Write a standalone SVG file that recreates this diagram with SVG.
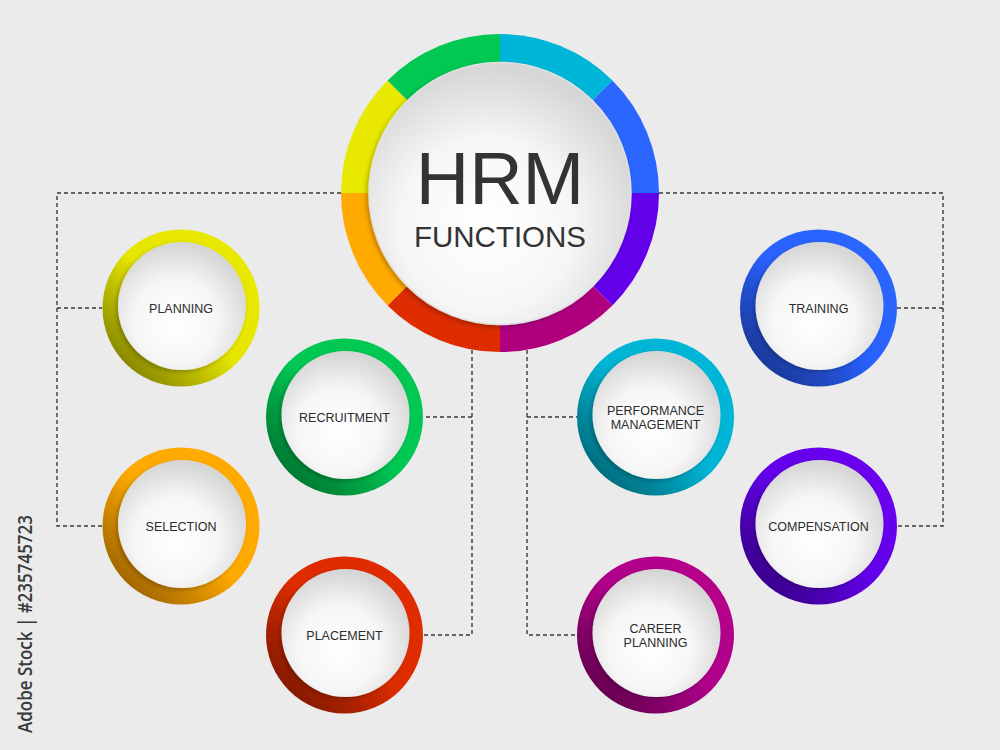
<svg xmlns="http://www.w3.org/2000/svg" width="1000" height="750" viewBox="0 0 1000 750">
<defs>
<style>
.lbl{font-family:"Liberation Sans",Arial,sans-serif;font-size:12.5px;fill:#2b2b2b;text-anchor:middle}
.dash{fill:none;stroke:#3a3a3a;stroke-width:1.4;stroke-dasharray:4 3}
.white{fill:url(#wg);filter:url(#sh)}
</style>
<radialGradient id="wg" cx="0.45" cy="0.62" r="0.6">
<stop offset="0" stop-color="#ffffff"/>
<stop offset="0.55" stop-color="#f6f6f6"/>
<stop offset="1" stop-color="#d6d6d6"/>
</radialGradient>
<filter id="sh" x="-20%" y="-20%" width="140%" height="140%">
<feDropShadow dx="-2" dy="2" stdDeviation="2" flood-color="#000" flood-opacity="0.25"/>
</filter>
<linearGradient id="gY" x1="0.85" y1="0.15" x2="0.15" y2="0.85"><stop offset="0" stop-color="#e8e800"/><stop offset="0.5" stop-color="#e6e600"/><stop offset="1" stop-color="#8a8a00"/></linearGradient>
<linearGradient id="gG" x1="0.85" y1="0.15" x2="0.15" y2="0.85"><stop offset="0" stop-color="#00c853"/><stop offset="0.5" stop-color="#00c853"/><stop offset="1" stop-color="#007a33"/></linearGradient>
<linearGradient id="gO" x1="0.85" y1="0.15" x2="0.15" y2="0.85"><stop offset="0" stop-color="#ffaa00"/><stop offset="0.5" stop-color="#ffaa00"/><stop offset="1" stop-color="#a36800"/></linearGradient>
<linearGradient id="gR" x1="0.85" y1="0.15" x2="0.15" y2="0.85"><stop offset="0" stop-color="#e02c00"/><stop offset="0.5" stop-color="#dd2c00"/><stop offset="1" stop-color="#861a00"/></linearGradient>
<linearGradient id="gB" x1="0.85" y1="0.15" x2="0.15" y2="0.85"><stop offset="0" stop-color="#2b65ff"/><stop offset="0.5" stop-color="#2962ff"/><stop offset="1" stop-color="#1a3a9c"/></linearGradient>
<linearGradient id="gC" x1="0.85" y1="0.15" x2="0.15" y2="0.85"><stop offset="0" stop-color="#00b6d6"/><stop offset="0.5" stop-color="#00b4d4"/><stop offset="1" stop-color="#006f80"/></linearGradient>
<linearGradient id="gP" x1="0.85" y1="0.15" x2="0.15" y2="0.85"><stop offset="0" stop-color="#6a00ee"/><stop offset="0.5" stop-color="#6200ea"/><stop offset="1" stop-color="#3a008e"/></linearGradient>
<linearGradient id="gM" x1="0.85" y1="0.15" x2="0.15" y2="0.85"><stop offset="0" stop-color="#b5008a"/><stop offset="0.5" stop-color="#b0008a"/><stop offset="1" stop-color="#680052"/></linearGradient>
</defs>
<rect width="1000" height="750" fill="#ebebeb"/>

<g id="connectors">
<path class="dash" d="M341,193 H57 V526 H102 M57,308 H102"/>
<path class="dash" d="M659,193 H943 V526 H897 M943,308 H897"/>
<path class="dash" d="M472,350 V635 H423 M472,417 H423"/>
<path class="dash" d="M527,350 V635 H577 M527,417 H577"/>
</g>

<g id="hrm">
<path d="M500,193 L500,34 A159,159 0 0 1 612.43,80.57 Z" fill="#00b6d8"/>
<path d="M500,193 L612.43,80.57 A159,159 0 0 1 659,193 Z" fill="#2b65ff"/>
<path d="M500,193 L659,193 A159,159 0 0 1 612.43,305.43 Z" fill="#6200ea"/>
<path d="M500,193 L612.43,305.43 A159,159 0 0 1 500,352 Z" fill="#b0007e"/>
<path d="M500,193 L500,352 A159,159 0 0 1 387.57,305.43 Z" fill="#dd2c00"/>
<path d="M500,193 L387.57,305.43 A159,159 0 0 1 341,193 Z" fill="#ffaa00"/>
<path d="M500,193 L341,193 A159,159 0 0 1 387.57,80.57 Z" fill="#e8e800"/>
<path d="M500,193 L387.57,80.57 A159,159 0 0 1 500,34 Z" fill="#00c853"/>
<circle cx="500" cy="193.5" r="131" class="white" stroke="#e2e2e2" stroke-width="1.5"/>
<text x="500" y="204" text-anchor="middle" font-family="Liberation Sans,Arial,sans-serif" font-size="74" fill="#333">HRM</text>
<text x="500" y="247" text-anchor="middle" font-family="Liberation Sans,Arial,sans-serif" font-size="29.5" fill="#333">FUNCTIONS</text>
</g>

<g id="planning">
<circle cx="181" cy="308" r="78.5" fill="url(#gY)"/>
<circle cx="182" cy="306" r="64" class="white"/>
<text class="lbl" x="181" y="312.5">PLANNING</text>
</g>
<g id="recruitment">
<circle cx="344.5" cy="417" r="78.5" fill="url(#gG)"/>
<circle cx="345.5" cy="415" r="64" class="white"/>
<text class="lbl" x="344.5" y="421.5">RECRUITMENT</text>
</g>
<g id="selection">
<circle cx="181" cy="526" r="78.5" fill="url(#gO)"/>
<circle cx="182" cy="524" r="64" class="white"/>
<text class="lbl" x="181" y="530.5">SELECTION</text>
</g>
<g id="placement">
<circle cx="344.5" cy="635" r="78.5" fill="url(#gR)"/>
<circle cx="345.5" cy="633" r="64" class="white"/>
<text class="lbl" x="344.5" y="639.5">PLACEMENT</text>
</g>
<g id="training">
<circle cx="818.5" cy="308" r="78.5" fill="url(#gB)"/>
<circle cx="819.5" cy="306" r="64" class="white"/>
<text class="lbl" x="818.5" y="312.5">TRAINING</text>
</g>
<g id="performance">
<circle cx="655.5" cy="417" r="78.5" fill="url(#gC)"/>
<circle cx="656.5" cy="415" r="64" class="white"/>
<text class="lbl" x="655.5" y="414.5">PERFORMANCE</text>
<text class="lbl" x="655.5" y="429">MANAGEMENT</text>
</g>
<g id="compensation">
<circle cx="818.5" cy="526" r="78.5" fill="url(#gP)"/>
<circle cx="819.5" cy="524" r="64" class="white"/>
<text class="lbl" x="818.5" y="530.5">COMPENSATION</text>
</g>
<g id="career">
<circle cx="655.5" cy="635" r="78.5" fill="url(#gM)"/>
<circle cx="656.5" cy="633" r="64" class="white"/>
<text class="lbl" x="655.5" y="632.5">CAREER</text>
<text class="lbl" x="655.5" y="647">PLANNING</text>
</g>

<text transform="translate(32,733) rotate(-90)" font-family="Open Sans,sans-serif" font-weight="600" font-size="19" fill="#3a3a3a" textLength="218" lengthAdjust="spacingAndGlyphs">Adobe Stock | #235745723</text>
</svg>
